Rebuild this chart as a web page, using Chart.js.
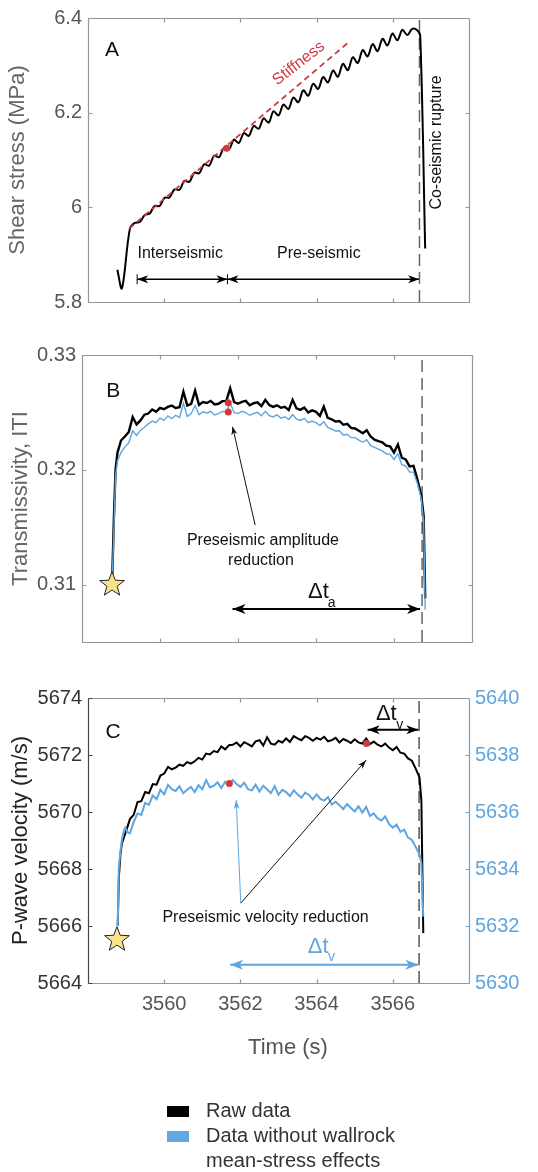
<!DOCTYPE html>
<html>
<head>
<meta charset="utf-8">
<script src="https://cdn.jsdelivr.net/npm/chart.js@4.4.0/dist/chart.umd.min.js"></script>
<style>
  body { margin: 0; background: #fff; width: 538px; height: 1172px; position: relative; overflow: hidden; }
  canvas { position: absolute; left: 0; }
</style>
</head>
<body>
<canvas id="chartA" width="538" height="320" style="top:0px"></canvas>
<canvas id="chartB" width="538" height="340" style="top:320px"></canvas>
<canvas id="chartC" width="538" height="512" style="top:660px"></canvas>
<script>
// ---- data ----
const timeMin = 3558;
const timeMax = 3568;
const timeTicks = [3560, 3562, 3564, 3566];
const ruptureTime = 3566.70;

// A: shear stress (MPa)
const shearTicks = [5.8, 6, 6.2, 6.4];
const shearTime = [3558.77, 3558.89, 3559.10, 3559.23, 3559.36, 3559.49, 3559.62, 3559.75, 3559.88, 3560.01,
  3560.14, 3560.27, 3560.40, 3560.53, 3560.66, 3560.79, 3560.92, 3561.05, 3561.18, 3561.31, 3561.44,
  3561.57, 3561.70, 3561.83, 3561.96, 3562.09, 3562.22, 3562.35, 3562.48, 3562.61, 3562.74, 3562.87,
  3563.00, 3563.13, 3563.26, 3563.39, 3563.52, 3563.65, 3563.78, 3563.91, 3564.04, 3564.17, 3564.30,
  3564.43, 3564.56, 3564.69, 3564.82, 3564.95, 3565.08, 3565.21, 3565.34, 3565.47, 3565.60, 3565.73,
  3565.86, 3565.99, 3566.12, 3566.25, 3566.38, 3566.51, 3566.64, 3566.72, 3566.85];
const shearStress = [5.868, 5.829, 5.955,
  5.967, 5.969, 5.984, 5.987, 6.003, 6.003, 6.020, 6.021, 6.038, 6.037,
  6.056, 6.054, 6.073, 6.072, 6.091, 6.088, 6.109, 6.106, 6.126, 6.122,
  6.143, 6.136, 6.157, 6.151, 6.172, 6.166, 6.188, 6.179, 6.203, 6.194,
  6.217, 6.208, 6.232, 6.222, 6.247, 6.236, 6.261, 6.250, 6.275, 6.264,
  6.289, 6.276, 6.303, 6.290, 6.317, 6.305, 6.332, 6.319, 6.345, 6.330,
  6.356, 6.342, 6.367, 6.353, 6.375, 6.364, 6.377, 6.374,
  6.362, 5.913];
const stiffnessTime = [3559.08, 3564.83];
const stiffnessStress = [5.955, 6.348];
const shearMarkTime = [3561.64];
const shearMarkStress = [6.125];

// B: transmissivity
const transTicks = [0.31, 0.32, 0.33];
const transTime = [3558.77, 3558.82, 3558.86, 3558.91,
  3559.0, 3559.1, 3559.2, 3559.3, 3559.4, 3559.5, 3559.6, 3559.7, 3559.8, 3559.9,
  3560.0, 3560.1, 3560.2, 3560.3, 3560.4, 3560.5, 3560.6, 3560.7, 3560.8, 3560.9,
  3561.0, 3561.1, 3561.2, 3561.3, 3561.4, 3561.5, 3561.6, 3561.7, 3561.8, 3561.9,
  3562.0, 3562.1, 3562.2, 3562.3, 3562.4, 3562.5, 3562.6, 3562.7, 3562.8, 3562.9,
  3563.0, 3563.1, 3563.2, 3563.3, 3563.4, 3563.5, 3563.6, 3563.7, 3563.8, 3563.9,
  3564.0, 3564.1, 3564.2, 3564.3, 3564.4, 3564.5, 3564.6, 3564.7, 3564.8, 3564.9,
  3565.0, 3565.1, 3565.2, 3565.3, 3565.4, 3565.5, 3565.6, 3565.7, 3565.8, 3565.9,
  3566.0, 3566.1, 3566.2, 3566.3, 3566.4, 3566.5, 3566.6, 3566.7, 3566.76, 3566.80];
const transRaw = [0.3100, 0.3160, 0.3200, 0.3215,
  0.32255, 0.32290, 0.32330, 0.32460, 0.32395, 0.32430, 0.32480, 0.32490, 0.32525, 0.32505,
  0.32540, 0.32528, 0.32548, 0.32560, 0.32538, 0.32545, 0.32680, 0.32560, 0.32575, 0.32690,
  0.32565, 0.32590, 0.32582, 0.32600, 0.32570, 0.32575, 0.32598, 0.32600, 0.32710, 0.32590,
  0.32575, 0.32592, 0.32600, 0.32562, 0.32580, 0.32588, 0.32555, 0.32610, 0.32565, 0.32548,
  0.32562, 0.32540, 0.32548, 0.32520, 0.32610, 0.32535, 0.32522, 0.32542, 0.32500, 0.32518,
  0.32505, 0.32470, 0.32550, 0.32452, 0.32440, 0.32420, 0.32425, 0.32392, 0.32400, 0.32365,
  0.32360, 0.32340, 0.32318, 0.32345, 0.32290, 0.32262, 0.32250, 0.32240, 0.32210, 0.32205,
  0.32150, 0.32220, 0.32105, 0.32090, 0.32030, 0.32035, 0.31915, 0.31775, 0.3160, 0.3088];
const transCorrected = [0.3100, 0.3150, 0.3195, 0.3208,
  0.32150, 0.32200, 0.32235, 0.32340, 0.32300, 0.32345, 0.32370, 0.32400, 0.32425, 0.32410,
  0.32450, 0.32430, 0.32470, 0.32445, 0.32475, 0.32455, 0.32580, 0.32465, 0.32490, 0.32560,
  0.32480, 0.32505, 0.32495, 0.32510, 0.32478, 0.32490, 0.32508, 0.32505, 0.32580, 0.32500,
  0.32490, 0.32510, 0.32498, 0.32475, 0.32490, 0.32500, 0.32470, 0.32510, 0.32472, 0.32460,
  0.32478, 0.32450, 0.32462, 0.32438, 0.32480, 0.32442, 0.32430, 0.32448, 0.32410, 0.32425,
  0.32410, 0.32385, 0.32420, 0.32370, 0.32355, 0.32338, 0.32340, 0.32302, 0.32310, 0.32280,
  0.32280, 0.32258, 0.32240, 0.32262, 0.32210, 0.32195, 0.32180, 0.32165, 0.32140, 0.32135,
  0.32090, 0.32140, 0.32045, 0.32035, 0.31980, 0.31980, 0.31880, 0.31750, 0.3155, 0.3078];
const transMarkTime = [3561.75, 3561.75];
const transMarkValue = [0.32584, 0.32503];

// C: P-wave velocity (m/s), raw on left axis, corrected on right axis
const velTicks = [5664, 5666, 5668, 5670, 5672, 5674];
const velRightTicks = [5630, 5632, 5634, 5636, 5638, 5640];
const velTime = [3558.78, 3558.81, 3558.85, 3558.89, 3558.94, 3558.98, 3559.03, 3559.1,
  3559.2, 3559.3, 3559.4, 3559.5, 3559.6, 3559.7, 3559.8, 3559.9,
  3560.0, 3560.1, 3560.2, 3560.3, 3560.4, 3560.5, 3560.6, 3560.7, 3560.8, 3560.9,
  3561.0, 3561.1, 3561.2, 3561.3, 3561.4, 3561.5, 3561.6, 3561.7, 3561.8, 3561.9,
  3562.0, 3562.1, 3562.2, 3562.3, 3562.4, 3562.5, 3562.6, 3562.7, 3562.8, 3562.9,
  3563.0, 3563.1, 3563.2, 3563.3, 3563.4, 3563.5, 3563.6, 3563.7, 3563.8, 3563.9,
  3564.0, 3564.1, 3564.2, 3564.3, 3564.4, 3564.5, 3564.6, 3564.7, 3564.8, 3564.9,
  3565.0, 3565.1, 3565.2, 3565.3, 3565.4, 3565.5, 3565.6, 3565.7, 3565.8, 3565.9,
  3566.0, 3566.1, 3566.2, 3566.3, 3566.4, 3566.5, 3566.6, 3566.7, 3566.75, 3566.80];
const velRaw = [5666.0, 5667.7, 5668.5, 5668.9, 5669.1, 5669.25, 5669.45, 5669.75,
  5669.90, 5670.35, 5670.38, 5670.70, 5670.66, 5670.98, 5670.96, 5671.28,
  5671.35, 5671.58, 5671.50, 5671.56, 5671.66, 5671.62, 5671.75, 5671.70, 5671.78, 5671.90,
  5671.84, 5672.05, 5672.02, 5672.14, 5672.10, 5672.30, 5672.20, 5672.34, 5672.36, 5672.44,
  5672.30, 5672.45, 5672.38, 5672.30, 5672.48, 5672.52, 5672.33, 5672.62, 5672.40, 5672.36,
  5672.50, 5672.44, 5672.58, 5672.46, 5672.66, 5672.58, 5672.52, 5672.66, 5672.60, 5672.50,
  5672.60, 5672.54, 5672.64, 5672.48, 5672.52, 5672.60, 5672.44, 5672.56, 5672.50, 5672.42,
  5672.55, 5672.44, 5672.40, 5672.58, 5672.38, 5672.47, 5672.36, 5672.30, 5672.40, 5672.26,
  5672.17, 5672.28, 5672.08, 5672.05, 5671.88, 5671.80, 5671.52, 5671.22, 5670.4, 5665.75];
const velCorrected = [5632.0, 5634.08, 5634.6, 5635.02, 5635.35, 5635.45, 5635.3, 5635.25,
  5635.65, 5635.95, 5635.90, 5636.32, 5636.25, 5636.58, 5636.45, 5636.78,
  5636.62, 5636.95, 5636.80, 5636.74, 5636.90, 5636.66, 5636.78, 5636.88, 5636.70, 5636.94,
  5636.80, 5637.12, 5636.86, 5636.92, 5637.04, 5636.84, 5637.06, 5636.95, 5637.12, 5636.98,
  5636.88, 5637.03, 5636.80, 5636.76, 5636.96, 5636.72, 5636.92, 5636.80, 5636.66, 5636.90,
  5636.60, 5636.78, 5636.70, 5636.56, 5636.76, 5636.62, 5636.50, 5636.68, 5636.60, 5636.44,
  5636.62, 5636.46, 5636.40, 5636.52, 5636.26, 5636.36, 5636.24, 5636.10, 5636.28, 5636.14,
  5636.02, 5636.20, 5635.98, 5636.18, 5635.86, 5635.95, 5635.78, 5635.70, 5635.84, 5635.58,
  5635.45, 5635.56, 5635.30, 5635.38, 5635.10, 5635.02, 5634.78, 5634.52, 5634.20, 5632.33];
const velRawMark = [3565.31, 5672.40];
const velCorrectedMark = [3561.71, 5637.00];

const seriesLabels = ["Raw data", "Data without wallrock\nmean-stress effects"];

// ---- styling ----
const FONT = '"Liberation Sans", Arial, Helvetica, sans-serif';
const AXIS_GREY = "#969696";
const TEXT_GREY = "#555555";
const BLUE = "#5FA5DF";
const RED = "#D1383C";
const STAR_FILL = "#F7E38C";

function pts(xs, ys) {
  return xs.map((x, i) => ({ x: x, y: ys[i] }));
}

function timeAxis(showLabels, height) {
  return {
    type: "linear",
    min: timeMin,
    max: timeMax,
    grid: { display: false, drawTicks: false },
    border: { display: false },
    afterBuildTicks: (s) => { s.ticks = timeTicks.map((v) => ({ value: v })); },
    ticks: {
      display: showLabels, autoSkip: false, maxRotation: 0, padding: 9,
      color: TEXT_GREY, font: { family: FONT, size: 20 },
      callback: (v) => String(v),
    },
    afterFit: (s) => { s.height = height; },
  };
}

function valueAxis(opt) {
  return {
    type: "linear",
    position: opt.position || "left",
    min: opt.min,
    max: opt.max,
    grid: { display: false, drawTicks: false },
    border: { display: false },
    afterBuildTicks: (s) => { s.ticks = opt.ticks.map((v) => ({ value: v })); },
    ticks: {
      autoSkip: false, padding: 6, color: opt.color,
      font: { family: FONT, size: 20 },
      callback: (v) => String(v),
    },
    title: opt.title ? {
      display: true, text: opt.title, color: opt.titleColor,
      font: { family: FONT, size: 22, lineHeight: 1.2 },
      padding: { top: opt.titlePad, bottom: 0 },
    } : { display: false },
    afterFit: (s) => { s.width = opt.width; },
  };
}

function line(label, data, color, width, extra) {
  return Object.assign({
    label: label, data: data, borderColor: color, backgroundColor: color,
    borderWidth: width, pointRadius: 0, fill: false, tension: 0,
  }, extra || {});
}

function arrowHead(ctx, x1, y1, x2, y2, len, wid, color) {
  const a = Math.atan2(y2 - y1, x2 - x1);
  ctx.save();
  ctx.translate(x2, y2);
  ctx.rotate(a);
  ctx.beginPath();
  ctx.moveTo(0, 0);
  ctx.lineTo(-len, -wid / 2);
  ctx.lineTo(-len * 0.72, 0);
  ctx.lineTo(-len, wid / 2);
  ctx.closePath();
  ctx.fillStyle = color;
  ctx.fill();
  ctx.restore();
}

function arrow(ctx, x1, y1, x2, y2, color, width, len, wid, both) {
  ctx.save();
  ctx.strokeStyle = color;
  ctx.lineWidth = width;
  ctx.beginPath();
  ctx.moveTo(x1, y1);
  ctx.lineTo(x2, y2);
  ctx.stroke();
  ctx.restore();
  arrowHead(ctx, x1, y1, x2, y2, len, wid, color);
  if (both) arrowHead(ctx, x2, y2, x1, y1, len, wid, color);
}

function star(ctx, cx, cy, r) {
  ctx.save();
  ctx.beginPath();
  for (let i = 0; i < 10; i++) {
    const rr = i % 2 === 0 ? r : r * 0.42;
    const a = -Math.PI / 2 + i * Math.PI / 5;
    const px = cx + rr * Math.cos(a);
    const py = cy + rr * Math.sin(a);
    if (i === 0) ctx.moveTo(px, py); else ctx.lineTo(px, py);
  }
  ctx.closePath();
  ctx.fillStyle = STAR_FILL;
  ctx.fill();
  ctx.strokeStyle = "#222";
  ctx.lineWidth = 1;
  ctx.stroke();
  ctx.restore();
}

function text(ctx, str, x, y, size, color, align, rot) {
  ctx.save();
  ctx.translate(x, y);
  if (rot) ctx.rotate(rot);
  ctx.font = size + "px " + FONT;
  ctx.fillStyle = color;
  ctx.textAlign = align || "center";
  ctx.textBaseline = "middle";
  ctx.fillText(str, 0, 0);
  ctx.restore();
}

function deltaT(ctx, x, y, sub, color) {
  ctx.save();
  ctx.font = "22px " + FONT;
  const w = ctx.measureText("\u0394t").width;
  ctx.restore();
  text(ctx, "\u0394t", x, y, 22, color);
  text(ctx, sub, x + w / 2 + 3, y + 11, 14, color);
}

// box with inward tick marks (MATLAB style)
function frame(chart, leftColor, rightColor, rightAxis) {
  const ctx = chart.ctx;
  const a = chart.chartArea;
  const xs = chart.scales.x;
  const yl = chart.scales.y;
  const yr = rightAxis ? chart.scales[rightAxis] : yl;
  const L = Math.round(a.left) + 0.5, R = Math.round(a.right) + 0.5;
  const T = Math.round(a.top) + 0.5, B = Math.round(a.bottom) + 0.5;
  ctx.save();
  ctx.lineWidth = 1.2;
  ctx.strokeStyle = AXIS_GREY;
  ctx.beginPath();
  ctx.moveTo(L, T); ctx.lineTo(R, T);
  ctx.moveTo(L, B); ctx.lineTo(R, B);
  timeTicks.forEach((t) => {
    const x = Math.round(xs.getPixelForValue(t)) + 0.5;
    ctx.moveTo(x, B); ctx.lineTo(x, B - 4);
    ctx.moveTo(x, T); ctx.lineTo(x, T + 4);
  });
  ctx.stroke();
  ctx.strokeStyle = leftColor;
  ctx.beginPath();
  ctx.moveTo(L, T); ctx.lineTo(L, B);
  yl.ticks.forEach((tk) => {
    const y = Math.round(yl.getPixelForValue(tk.value)) + 0.5;
    ctx.moveTo(L, y); ctx.lineTo(L + 4, y);
    if (!rightAxis) { ctx.moveTo(R, y); ctx.lineTo(R - 4, y); }
  });
  ctx.stroke();
  ctx.strokeStyle = rightColor;
  ctx.beginPath();
  ctx.moveTo(R, T); ctx.lineTo(R, B);
  if (rightAxis) {
    yr.ticks.forEach((tk) => {
      const y = Math.round(yr.getPixelForValue(tk.value)) + 0.5;
      ctx.moveTo(R, y); ctx.lineTo(R - 4, y);
    });
  }
  ctx.stroke();
  ctx.restore();
}

const common = {
  responsive: false,
  animation: false,
  devicePixelRatio: 1,
  events: [],
};

// ---------- A ----------
new Chart(document.getElementById("chartA"), {
  type: "line",
  data: {
    datasets: [
      line("mark", pts(shearMarkTime, shearMarkStress), RED, 0, { showLine: false, pointRadius: 3.5, order: 0 }),
      line("Stiffness", pts(stiffnessTime, stiffnessStress), RED, 1.8, { borderDash: [6, 4], order: 1 }),
      line("Shear stress", pts(shearTime, shearStress), "#000", 2, { tension: 0.35, order: 2 }),
      line("rupture", pts([ruptureTime, ruptureTime], [5.8, 6.4]), "#666", 1.5, { borderDash: [12, 6], order: 3 }),
    ],
  },
  options: Object.assign({}, common, {
    layout: { padding: { top: 17, right: 69, bottom: 0, left: 0 } },
    plugins: { legend: { display: false }, tooltip: { enabled: false } },
    scales: {
      x: timeAxis(false, 16),
      y: valueAxis({ min: 5.8, max: 6.4, ticks: shearTicks, color: TEXT_GREY, title: "Shear stress (MPa)", titleColor: "#666", titlePad: 5, width: 88 }),
    },
  }),
  plugins: [{
    id: "annotA",
    beforeDatasetsDraw(chart) { frame(chart, AXIS_GREY, AXIS_GREY); },
    afterDraw(chart) {
      const ctx = chart.ctx, x = chart.scales.x, y = chart.scales.y;
      const ay = y.getPixelForValue(5.848);
      const x0 = x.getPixelForValue(3559.29), x1 = x.getPixelForValue(3561.66), x2 = x.getPixelForValue(3566.69);
      arrow(ctx, x0, ay, x1, ay, "#000", 1.5, 11, 8, true);
      arrow(ctx, x1, ay, x2, ay, "#000", 1.5, 11, 8, true);
      ctx.save();
      ctx.strokeStyle = "#000"; ctx.lineWidth = 1;
      ctx.beginPath();
      ctx.moveTo(x0, ay - 5); ctx.lineTo(x0, ay + 5);
      ctx.moveTo(x1, ay - 5); ctx.lineTo(x1, ay + 5);
      ctx.stroke();
      ctx.restore();
      text(ctx, "Interseismic", x.getPixelForValue(3560.42), y.getPixelForValue(5.902), 16, "#111");
      text(ctx, "Pre-seismic", x.getPixelForValue(3564.06), y.getPixelForValue(5.902), 16, "#111");
      text(ctx, "Co-seismic rupture", x.getPixelForValue(3567.16), y.getPixelForValue(6.137), 16, "#111", "center", -Math.PI / 2);
      text(ctx, "Stiffness", x.getPixelForValue(3563.53), y.getPixelForValue(6.304), 16, RED, "center", -0.66);
      text(ctx, "A", x.getPixelForValue(3558.63), y.getPixelForValue(6.331), 21, "#111");
    },
  }],
});

// ---------- B ----------
new Chart(document.getElementById("chartB"), {
  type: "line",
  data: {
    datasets: [
      line("marks", pts(transMarkTime, transMarkValue), RED, 0, { showLine: false, pointRadius: 3.5, order: 0 }),
      line(seriesLabels[1], pts(transTime, transCorrected), BLUE, 1.4, { order: 1 }),
      line(seriesLabels[0], pts(transTime, transRaw), "#000", 2.4, { order: 2 }),
      line("rupture", pts([3566.72, 3566.72], [0.305, 0.33]), "#666", 1.5, { borderDash: [12, 6], order: 3 }),
    ],
  },
  options: Object.assign({}, common, {
    layout: { padding: { top: 35, right: 66, bottom: 0, left: 0 } },
    plugins: { legend: { display: false }, tooltip: { enabled: false } },
    scales: {
      x: timeAxis(false, 18),
      y: valueAxis({ min: 0.305, max: 0.33, ticks: transTicks, color: TEXT_GREY, title: "Transmissivity, ITI", titleColor: "#666", titlePad: 8, width: 82 }),
    },
  }),
  plugins: [{
    id: "annotB",
    beforeDatasetsDraw(chart) { frame(chart, AXIS_GREY, AXIS_GREY); },
    afterDraw(chart) {
      const ctx = chart.ctx, x = chart.scales.x, y = chart.scales.y;
      star(ctx, x.getPixelForValue(3558.77), y.getPixelForValue(0.31), 13);
      arrow(ctx, x.getPixelForValue(3562.44), y.getPixelForValue(0.31518), x.getPixelForValue(3561.86), y.getPixelForValue(0.32375), "#111", 1, 8, 6, false);
      text(ctx, "Preseismic amplitude", x.getPixelForValue(3562.64), y.getPixelForValue(0.31387), 16, "#111");
      text(ctx, "reduction", x.getPixelForValue(3562.59), y.getPixelForValue(0.31213), 16, "#111");
      const ay = y.getPixelForValue(0.30788);
      arrow(ctx, x.getPixelForValue(3561.86), ay, x.getPixelForValue(3566.67), ay, "#000", 2, 13, 10, true);
      deltaT(ctx, x.getPixelForValue(3564.06), y.getPixelForValue(0.30934), "a", "#111");
      text(ctx, "B", x.getPixelForValue(3558.80), y.getPixelForValue(0.32686), 21, "#111");
    },
  }],
});

// ---------- C ----------
new Chart(document.getElementById("chartC"), {
  type: "line",
  data: {
    datasets: [
      line("mark raw", [{ x: velRawMark[0], y: velRawMark[1] }], RED, 0, { showLine: false, pointRadius: 3.5, order: 0 }),
      line("mark corrected", [{ x: velCorrectedMark[0], y: velCorrectedMark[1] }], RED, 0, { showLine: false, pointRadius: 3.5, order: 0, yAxisID: "y1" }),
      line(seriesLabels[1], pts(velTime, velCorrected), BLUE, 2, { order: 1, yAxisID: "y1" }),
      line(seriesLabels[0], pts(velTime, velRaw), "#000", 2, { order: 2 }),
      line("rupture", pts([3566.69, 3566.69], [5664, 5674]), "#555", 1.5, { borderDash: [12, 6], order: 3 }),
    ],
  },
  options: Object.assign({}, common, {
    layout: { padding: { top: 38, right: 0, bottom: 119, left: 0 } },
    plugins: { legend: { display: false }, tooltip: { enabled: false } },
    scales: {
      x: timeAxis(true, 70),
      y: valueAxis({ min: 5664, max: 5674, ticks: velTicks, color: "#333", title: "P-wave velocity (m/s)", titleColor: "#222", titlePad: 8, width: 88 }),
      y1: valueAxis({ position: "right", min: 5630, max: 5640, ticks: velRightTicks, color: BLUE, width: 69 }),
    },
  }),
  plugins: [{
    id: "annotC",
    beforeDatasetsDraw(chart) { frame(chart, "#444", BLUE, "y1"); },
    afterDraw(chart) {
      const ctx = chart.ctx, x = chart.scales.x, y = chart.scales.y;
      star(ctx, x.getPixelForValue(3558.76), y.getPixelForValue(5665.52), 13);
      const ox = x.getPixelForValue(3562.01), oy = y.getPixelForValue(5666.80);
      arrow(ctx, ox, oy, x.getPixelForValue(3565.30), y.getPixelForValue(5671.82), "#111", 1, 9, 6, false);
      arrow(ctx, ox, oy, x.getPixelForValue(3561.89), y.getPixelForValue(5670.42), BLUE, 1, 9, 6, false);
      text(ctx, "Preseismic velocity reduction", x.getPixelForValue(3562.66), y.getPixelForValue(5666.30), 16, "#111");
      // black delta t
      const by = y.getPixelForValue(5672.89);
      arrow(ctx, x.getPixelForValue(3565.34), by, x.getPixelForValue(3566.67), by, "#000", 2, 12, 9, true);
      deltaT(ctx, x.getPixelForValue(3565.83), y.getPixelForValue(5673.45), "v", "#111");
      // blue delta t
      const uy = y.getPixelForValue(5664.64);
      arrow(ctx, x.getPixelForValue(3561.73), uy, x.getPixelForValue(3566.67), uy, BLUE, 2, 13, 10, true);
      deltaT(ctx, x.getPixelForValue(3564.04), y.getPixelForValue(5665.28), "v", BLUE);
      text(ctx, "C", x.getPixelForValue(3558.66), y.getPixelForValue(5672.80), 21, "#111");
      // x axis title
      text(ctx, "Time (s)", 288, 388, 22, TEXT_GREY);
      // legend
      const colors = ["#000", "#62A7E0"];
      let ty = 450;
      seriesLabels.forEach((lab, i) => {
        ctx.fillStyle = colors[i];
        ctx.fillRect(167, ty - 4, 22, 11);
        lab.split("\n").forEach((ln) => {
          text(ctx, ln, 206, ty + 1, 20, "#333", "left");
          ty += 25;
        });
      });
    },
  }],
});
</script>
</body>
</html>
